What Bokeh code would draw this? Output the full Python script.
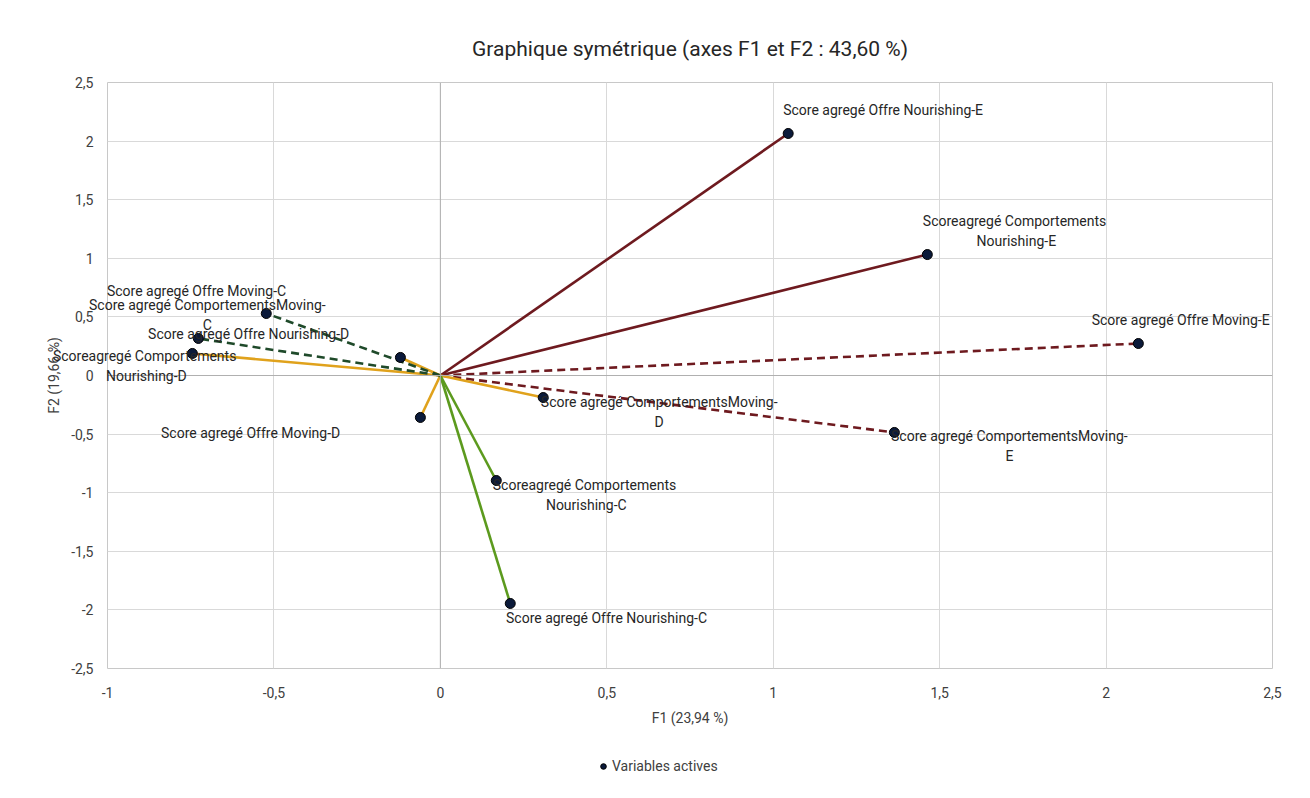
from bokeh.plotting import figure
from bokeh.layouts import column
from bokeh.models import FixedTicker, Span, Legend, LegendItem, ColumnDataSource, Title
from bokeh.core.properties import value
from bokeh.embed import file_html
from bokeh.resources import INLINE

labels = [
    "Score  agregé Offre Nourishing-E",
    "Scoreagregé  Comportements\nNourishing-E",
    "Score agregé  Offre Moving-E",
    "Score agregé ComportementsMoving-\nE",
    "Score agregé ComportementsMoving-\nD",
    "Scoreagregé  Comportements\nNourishing-C",
    "Score  agregé Offre Nourishing-C",
    "Score agregé  Offre Moving-D",
    "Score  agregé Offre Nourishing-D",
    "Score agregé  Offre Moving-C",
    "Score agregé ComportementsMoving-\nC",
    "Scoreagregé  Comportements\nNourishing-D",
]
f1 = [1.045, 1.463, 2.097, 1.364, 0.309, 0.168, 0.210, -0.060, -0.120, -0.523, -0.727, -0.745]
f2 = [2.065, 1.032, 0.273, -0.486, -0.188, -0.896, -1.945, -0.358, 0.154, 0.529, 0.316, 0.188]
groups = ["NE", "NE", "ME", "ME", "D", "NC", "NC", "D", "D", "MC", "MC", "D"]
legend_label = "Variables actives"

# label offsets in screen pixels (style)
lab_dx = [-5, 89, 44, 115, 116, 90, 98, -168, -150, -68, 9, -46]
lab_dy = [-23, -24, -24, 14, 14, 14, 15, 16, -23, -23, -23, 13]
lab_align = ["left", "center", "center", "center", "center", "center", "center",
             "center", "center", "center", "center", "center"]

x_ticks = [-1, -0.5, 0, 0.5, 1, 1.5, 2, 2.5]
x_tick_labels = ["-1", "-0,5", "0", "0,5", "1", "1,5", "2", "2,5"]
y_ticks = [-2.5, -2, -1.5, -1, -0.5, 0, 0.5, 1, 1.5, 2, 2.5]
y_tick_labels = ["-2,5", "-2", "-1,5", "-1", "-0,5", "0", "0,5", "1", "1,5", "2", "2,5"]

styles = {
    "NE": dict(color="#6e1a1f", dash="solid"),
    "ME": dict(color="#6e1a1f", dash="8 5"),
    "D": dict(color="#e0a21c", dash="solid"),
    "NC": dict(color="#5c9a1e", dash="solid"),
    "MC": dict(color="#1f4a2a", dash="8 5"),
}

FONT = "Roboto"
PT_FILL = "#0b1a3a"

p = figure(width=1302, height=740, x_range=(-1, 2.5), y_range=(-2.5, 2.5),
           output_backend="svg", toolbar_location=None,
           min_border_left=107, min_border_right=30, min_border_top=82, min_border_bottom=72)

p.title = Title(text="Graphique symétrique (axes F1 et F2 : 43,60 %)", align="center",
                text_font=FONT, text_font_size="21px", text_font_style="normal",
                text_color="#262626", offset=0, standoff=43)

p.xaxis.ticker = FixedTicker(ticks=x_ticks)
p.yaxis.ticker = FixedTicker(ticks=y_ticks)
p.xaxis.major_label_overrides = {t: l for t, l in zip(x_ticks, x_tick_labels)}
p.yaxis.major_label_overrides = {t: l for t, l in zip(y_ticks, y_tick_labels)}
for ax in (p.xaxis[0], p.yaxis[0]):
    ax.axis_line_color = None
    ax.major_tick_line_color = None
    ax.minor_tick_line_color = None
    ax.major_label_text_font = FONT
    ax.major_label_text_font_size = "14px"
    ax.major_label_text_color = "#404040"
    ax.axis_label_text_font = FONT
    ax.axis_label_text_font_size = "14px"
    ax.axis_label_text_font_style = "normal"
    ax.axis_label_text_color = "#404040"
p.xaxis.axis_label = "F1 (23,94 %)"
p.yaxis.axis_label = "F2 (19,66 %)"
p.xaxis.major_label_standoff = 12
p.yaxis.major_label_standoff = 8
p.xaxis.axis_label_standoff = 9
p.yaxis.axis_label_standoff = 6

p.grid.grid_line_color = "#d9d9d9"
p.grid.grid_line_width = 1
p.outline_line_color = "#c8c8c8"
p.border_fill_color = "white"

p.add_layout(Span(location=0, dimension="width", line_color="#b0b0b0", line_width=1))
p.add_layout(Span(location=0, dimension="height", line_color="#b0b0b0", line_width=1))

for g, st in styles.items():
    idx = [i for i, gg in enumerate(groups) if gg == g]
    seg_src = ColumnDataSource(dict(x0=[0] * len(idx), y0=[0] * len(idx),
                                    x1=[f1[i] for i in idx], y1=[f2[i] for i in idx]))
    p.segment(x0="x0", y0="y0", x1="x1", y1="y1", source=seg_src,
              line_color=st["color"], line_width=2.6, line_dash=st["dash"])

src = ColumnDataSource(dict(x=f1, y=f2, text=labels, dx=lab_dx, dy=lab_dy, align=lab_align))
pts = p.scatter(x="x", y="y", source=src, size=10, fill_color=PT_FILL, line_color="#000000",
                line_width=1)
p.text(x="x", y="y", text="text", source=src, x_offset="dx", y_offset="dy",
       text_align="align", text_baseline="middle", text_font=value(FONT),
       text_font_size="14px", text_color="#262626", text_line_height=1.25, level="overlay")

# legend strip below the chart (shares the data source; its view range shows none of the points)
p2 = figure(width=1302, height=50, x_range=(10, 11), y_range=(10, 11),
            output_backend="svg", toolbar_location=None,
            min_border_left=0, min_border_right=0, min_border_top=0, min_border_bottom=0)
p2.axis.visible = False
p2.grid.visible = False
p2.outline_line_color = None
leg_r = p2.scatter(x="x", y="y", source=src, size=10, fill_color=PT_FILL,
                   line_color="#000000", line_width=1)
legend = Legend(items=[LegendItem(label=legend_label, renderers=[leg_r])],
                location=(489, 14), orientation="horizontal",
                label_text_font=FONT, label_text_font_size="14px", label_text_color="#404040",
                border_line_color=None, background_fill_alpha=0, margin=0, glyph_width=14,
                label_standoff=2, padding=2)
p2.add_layout(legend, "center")

layout = column(p, p2, spacing=0)
open("out.html", "w").write(file_html(layout, INLINE))
